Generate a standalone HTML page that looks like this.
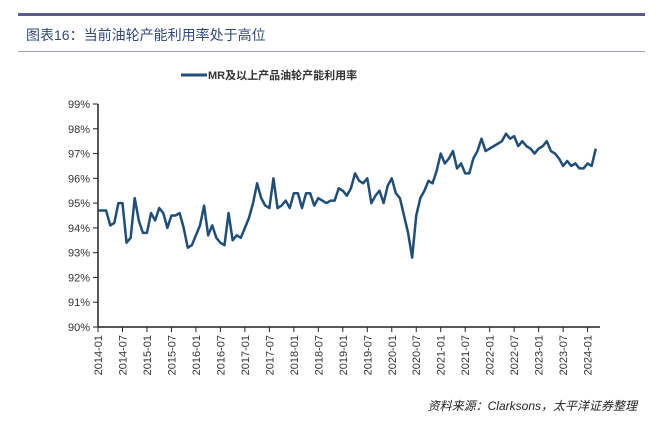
<!DOCTYPE html>
<html><head><meta charset="utf-8"><style>
body{margin:0;background:#fff;width:655px;height:431px;overflow:hidden;font-family:"Liberation Sans","Noto Sans CJK SC",sans-serif;}
</style></head><body>
<svg width="655" height="431" xmlns="http://www.w3.org/2000/svg">
<rect x="18" y="13" width="627" height="3" fill="#5b5b8f"/>
<text x="26" y="40" font-size="14" fill="#2f4a7a" font-family="Liberation Sans,Noto Sans CJK SC,sans-serif">图表16：当前油轮产能利用率处于高位</text>
<rect x="18" y="51" width="627" height="1" fill="#a0a0c0"/>
<line x1="181" y1="75" x2="207" y2="75" stroke="#1f4e79" stroke-width="3"/>
<text x="208" y="79" font-size="11" font-weight="bold" fill="#333">MR及以上产品油轮产能利用率</text>
<g id="axes"></g>
<text x="637" y="410" font-size="12" font-style="italic" text-anchor="end" fill="#222">资料来源：Clarksons，太平洋证券整理</text>
</svg>
<script>
const yTicks=[90,91,92,93,94,95,96,97,98,99];
const xLabels=["2014-01","2014-07","2015-01","2015-07","2016-01","2016-07","2017-01","2017-07","2018-01","2018-07","2019-01","2019-07","2020-01","2020-07","2021-01","2021-07","2022-01","2022-07","2023-01","2023-07","2024-01"];
const values=[94.7,94.7,94.7,94.1,94.2,95.0,95.0,93.4,93.6,95.2,94.3,93.8,
93.8,94.6,94.3,94.8,94.6,94.0,94.5,94.5,94.6,94.0,93.2,93.3,
93.7,94.1,94.9,93.7,94.1,93.6,93.4,93.3,94.6,93.5,93.7,93.6,
94.0,94.4,95.0,95.8,95.2,94.9,94.8,96.0,94.8,94.9,95.1,94.8,
95.4,95.4,94.8,95.4,95.4,94.9,95.2,95.1,95.0,95.1,95.1,95.6,
95.5,95.3,95.6,96.2,95.9,95.8,96.0,95.0,95.3,95.5,95.0,
95.7,96.0,95.4,95.2,94.5,93.8,92.8,94.5,95.2,95.5,95.9,95.8,
96.3,97.0,96.6,96.8,97.1,96.4,96.6,96.2,96.2,96.8,97.1,97.6,
97.1,97.2,97.3,97.4,97.5,97.8,97.6,97.7,97.3,97.5,97.3,97.2,
97.0,97.2,97.3,97.5,97.1,97.0,96.8,96.5,96.7,96.5,96.6,96.4,
96.4,96.6,96.5,97.2];
const NS="http://www.w3.org/2000/svg";
const g=document.getElementById('axes');
const X0=98,Y0=327,Y1=104,MW=4.08;
const xs=i=>X0+i*MW;
const ys=v=>Y0-(v-90)/9*(Y0-Y1);
function mk(t,a){const e=document.createElementNS(NS,t);for(const k in a)e.setAttribute(k,a[k]);g.appendChild(e);return e;}
let ax=mk('line',{x1:X0,y1:Y1,x2:X0,y2:Y0,stroke:'#222','stroke-width':1.5});


let bx=mk('line',{x1:X0,y1:Y0,x2:600,y2:Y0,stroke:'#222','stroke-width':1.5});


yTicks.forEach(v=>{
 const t=mk('line',{x1:X0-5,y1:ys(v),x2:X0,y2:ys(v),stroke:'#222'});
 
 
 const l=mk('text',{x:X0-8,y:ys(v)+4,'font-size':11,'text-anchor':'end',fill:'#333'});
 l.textContent=v+'%';
 
 
});
xLabels.forEach((s,i)=>{
 const x=xs(i*6);
 const t=mk('line',{x1:x,y1:Y0,x2:x,y2:Y0+5,stroke:'#222'});
 
 
 const l=mk('text',{x:x+4,y:Y0+8,'font-size':11,'text-anchor':'end',fill:'#333',transform:`rotate(-90 ${x+4} ${Y0+8})`});
 l.textContent=s;
 
 
});
const p=mk('polyline',{points:values.map((v,i)=>xs(i)+','+ys(v)).join(' '),fill:'none',stroke:'#1f4e79','stroke-width':2.5,'stroke-linejoin':'round'});


</script>
</body></html>
